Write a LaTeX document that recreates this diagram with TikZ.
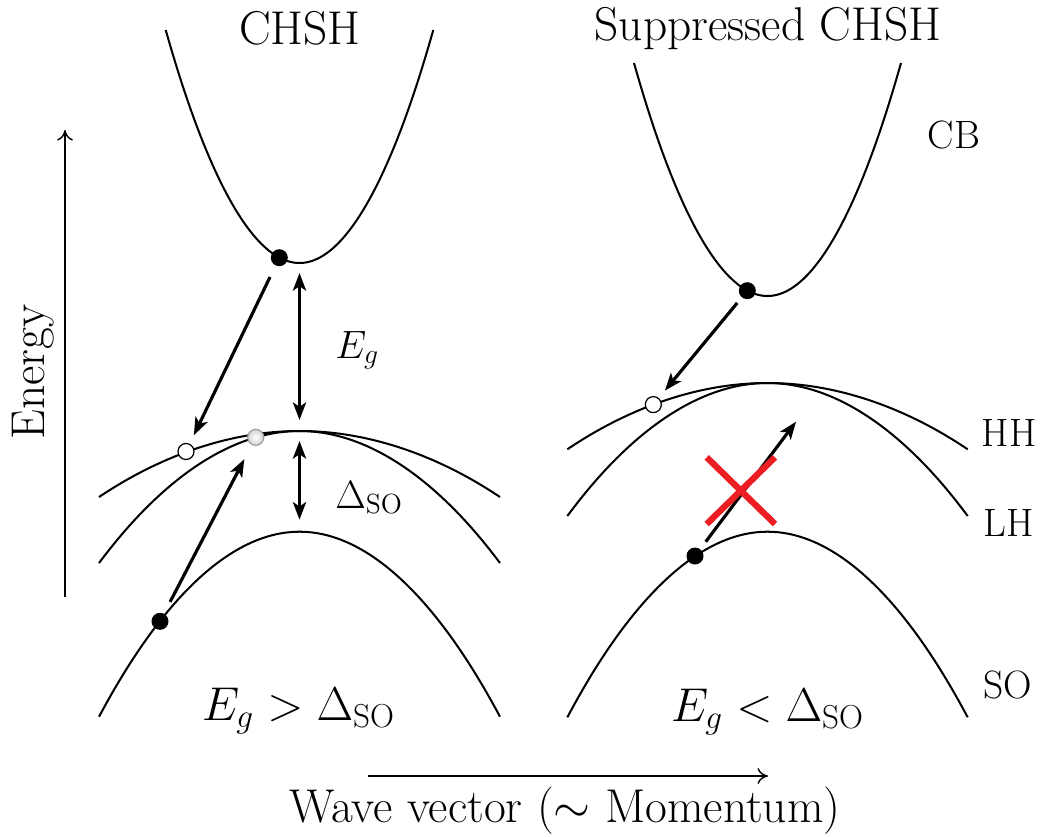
\RequirePackage{fix-cm}
\documentclass[tikz,border=0pt]{standalone}
\usepackage{tikz}
\usetikzlibrary{arrows.meta,calc}
\definecolor{crossred}{RGB}{236,30,36}

\begin{document}
\begin{tikzpicture}[x=0.02cm, y=-0.02cm, >=Stealth,
  band/.style={line width=1.15pt},
  flow/.style={->, line width=1.8pt, >={Stealth[length=10pt,width=7.5pt,inset=2.5pt]}},
  gap/.style={<->, line width=1.8pt, >={Stealth[length=10pt,width=7.5pt,inset=2.5pt]}},
  axis/.style={-{Computer Modern Rightarrow[length=6pt,width=9pt]}, line width=0.8pt},
  elec/.style={circle, fill=black, inner sep=0pt, minimum size=0.34cm},
  hole/.style={circle, draw, fill=white, line width=0.7pt, inner sep=0pt, minimum size=0.32cm},
  pale/.style={circle, draw=gray!75, shading=radial, inner color=white, outer color=gray!35, line width=0.7pt, inner sep=0pt, minimum size=0.32cm},
  cross/.style={crossred, line width=3.6pt},
  big/.style={inner sep=0pt, font=\fontsize{27}{32}\selectfont},
  lab/.style={inner sep=0pt, font=\fontsize{22.5}{27}\selectfont}]
  \useasboundingbox (0,0) rectangle (1041,836);
  % axes
  \coordinate (e0) at (65,597);
  \coordinate (e1) at (65,130);
  \coordinate (k0) at (368,776);
  \coordinate (k1) at (768,776);
  \draw[axis] (e0) -- (e1);
  \draw[axis] (k0) -- (k1);
  \node[big, rotate=90, anchor=base] (energy) at (44,372) {Energy};
  \node[big, anchor=base] (wave) at (565,822) {Wave vector ($\sim$ Momentum)};

  % left panel: CHSH
  \node[big, anchor=base] (titleL) at (300,44) {CHSH};
  \draw[band] (165.7,30) parabola bend (299.5,263) (433.3,30);
  \draw[band] (99,497) parabola bend (299.5,431) (500,497);
  \draw[band] (99,563) parabola bend (299.5,431) (500,563);
  \draw[band] (99,716.7) parabola bend (299.5,531.7) (500,716.7);
  \coordinate (cbL) at (299.5,263);
  \coordinate (vbL) at (299.5,431);
  \coordinate (soL) at (299.5,531.7);
  \node[elec] (eL) at (279.3,257.7) {};
  \node[hole] (hL) at (186,451.5) {};
  \node[pale] (gL) at (255.7,437.3) {};
  \node[elec] (sL) at (160,621.3) {};
  \draw[flow, shorten <=0.25cm, shorten >=0.19cm] (eL) -- (hL);
  \draw[flow, shorten <=0.26cm, shorten >=0.32cm] (sL) -- (gL);
  \draw[gap, shorten <=0.2cm, shorten >=0.22cm] (cbL) -- (vbL);
  \draw[gap, shorten <=0.2cm, shorten >=0.24cm] (vbL) -- (soL);
  \node[lab, anchor=base west] (eg) at (335,358) {$E_g$};
  \node[lab, anchor=base west] (dso) at (335,508) {$\Delta_{\mathrm{SO}}$};
  \node[big, anchor=base] (condL) at (298.5,720) {$E_g > \Delta_{\mathrm{SO}}$};

  % right panel: suppressed CHSH
  \node[big, anchor=base] (titleR) at (768,40) {Suppressed CHSH};
  \draw[band] (634,63) parabola bend (767.5,296) (901,63);
  \draw[band] (567.3,449.3) parabola bend (767.5,383) (967.7,449.3);
  \draw[band] (567.3,516) parabola bend (767.5,383) (967.7,516);
  \draw[band] (567.3,717.3) parabola bend (767.5,531.7) (967.7,717.3);
  \node[elec] (eR) at (747.3,290.7) {};
  \node[hole] (hR) at (653.3,404.6) {};
  \node[elec] (sR) at (695,556) {};
  \coordinate (blocked) at (796,421.7);
  \draw[flow, shorten <=0.14cm, shorten >=0.19cm] (eR) -- (hR);
  \draw[flow, shorten <=0.18cm] (sR) -- (blocked);
  \draw[cross] (706.7,457.3) -- (775,524) (775,457.3) -- (706.7,524);
  \node[big, anchor=base] (condR) at (767.5,721) {$E_g < \Delta_{\mathrm{SO}}$};

  % band names
  \node[lab, anchor=base] (cb) at (954,148) {CB};
  \node[lab, anchor=base] (hh) at (1009,446) {HH};
  \node[lab, anchor=base] (lh) at (1009,536) {LH};
  \node[lab, anchor=base] (so) at (1008,698) {SO};
\end{tikzpicture}
\end{document}
